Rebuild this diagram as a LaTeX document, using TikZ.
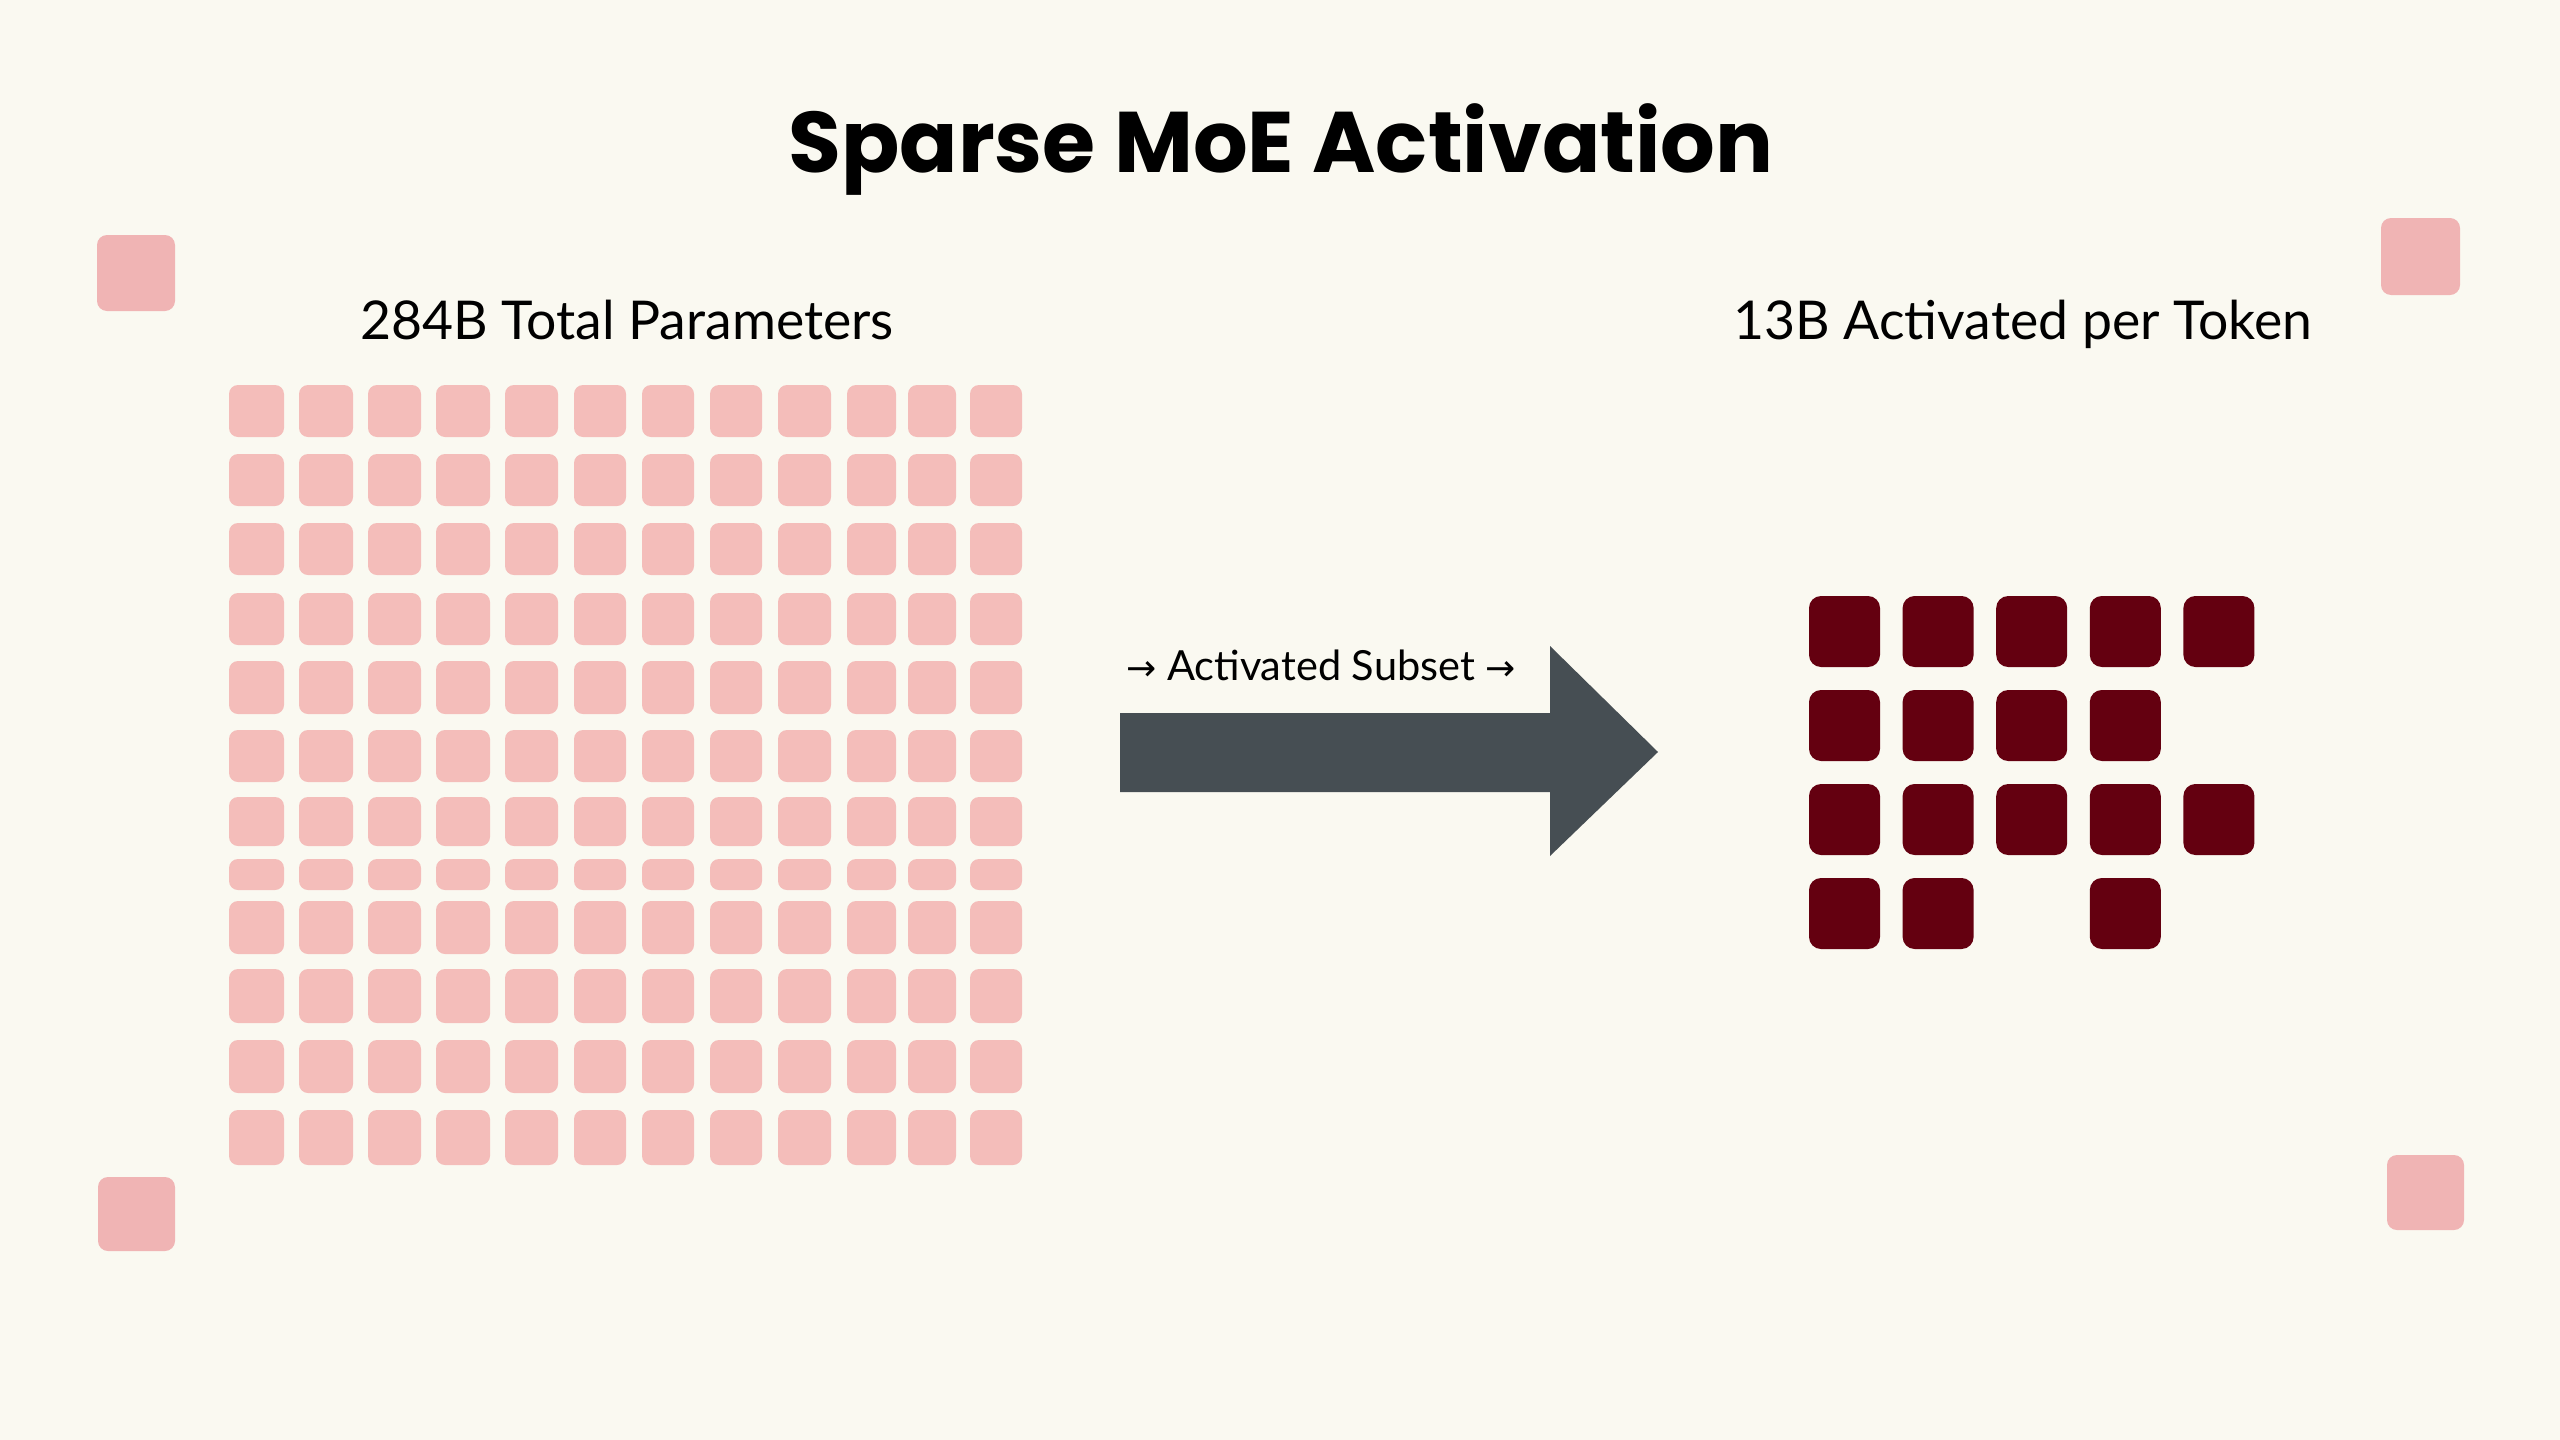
\documentclass[tikz,border=0pt]{standalone}
\usepackage{fontspec}
\setmainfont{Lato}
\newfontfamily\titlefont{Poppins}
\newfontfamily\arrowfont{DejaVu Sans}
\definecolor{bg}{RGB}{250,249,241}
\definecolor{cellpink}{RGB}{244,189,186}
\definecolor{cornerpink}{RGB}{240,180,180}
\definecolor{activered}{RGB}{100,0,16}
\definecolor{slate}{RGB}{70,78,83}
\tikzset{
  cell/.style={fill=cellpink, rounded corners=9pt},
  cornerbox/.style={fill=cornerpink, rounded corners=10pt},
  activebox/.style={fill=activered, rounded corners=12pt},
  bigarrow/.style={fill=slate},
  titletext/.style={inner sep=0pt, anchor=base, font=\titlefont\bfseries\fontsize{86}{96}\selectfont},
  labeltext/.style={inner sep=0pt, anchor=base, font=\fontsize{53.5}{62}\selectfont},
  subsettext/.style={inner sep=0pt, anchor=base, font=\fontsize{41.5}{48}\selectfont},
}
\begin{document}
\begin{tikzpicture}[x=1pt,y=-1pt]
\fill[bg] (0,0) rectangle (2560,1440);
\useasboundingbox (0,0) rectangle (2560,1440);

% title and labels
\node[titletext] (title) at (1281,172) {Sparse MoE Activation};
\node[labeltext] (total) at (627,339) {284B Total Parameters};
\node[labeltext] (active) at (2023,339) {13B Activated per Token};
\node[subsettext] (subset) at (1321,680) {{\arrowfont\fontsize{36}{44}\selectfont →} Activated Subset {\arrowfont\fontsize{36}{44}\selectfont →}};

% corner squares
\fill[cornerbox] (97,235) rectangle (175,311);
\fill[cornerbox] (2381,218) rectangle (2460,295);
\fill[cornerbox] (98,1177) rectangle (175,1251);
\fill[cornerbox] (2387,1155) rectangle (2464,1230);

% full parameter grid
\foreach \l/\r in {229/284,299/353,368/421,436/490,505/558,574/626,642/694,710/762,778/831,847/896,908/956,970/1022}
  \foreach \t/\b in {385/437,454/506,523/575,593/645,661/714,730/782,797/846,859/890,901/954,969/1023,1040/1093,1110/1165}
    \fill[cell] (\l,\t) rectangle (\r,\b);

% big arrow
\fill[bigarrow] (1120,713) -- (1550,713) -- (1550,646) -- (1658,752) -- (1550,856) -- (1550,792) -- (1120,792) -- cycle;

% activated subset
\foreach \c/\r in {1/1,2/1,3/1,4/1,5/1,1/2,2/2,3/2,4/2,1/3,2/3,3/3,4/3,5/3,1/4,2/4,4/4}
  \fill[activebox] ({1809+93.6*(\c-1)},{596+94*(\r-1)}) rectangle +(71,71);
\end{tikzpicture}
\end{document}
